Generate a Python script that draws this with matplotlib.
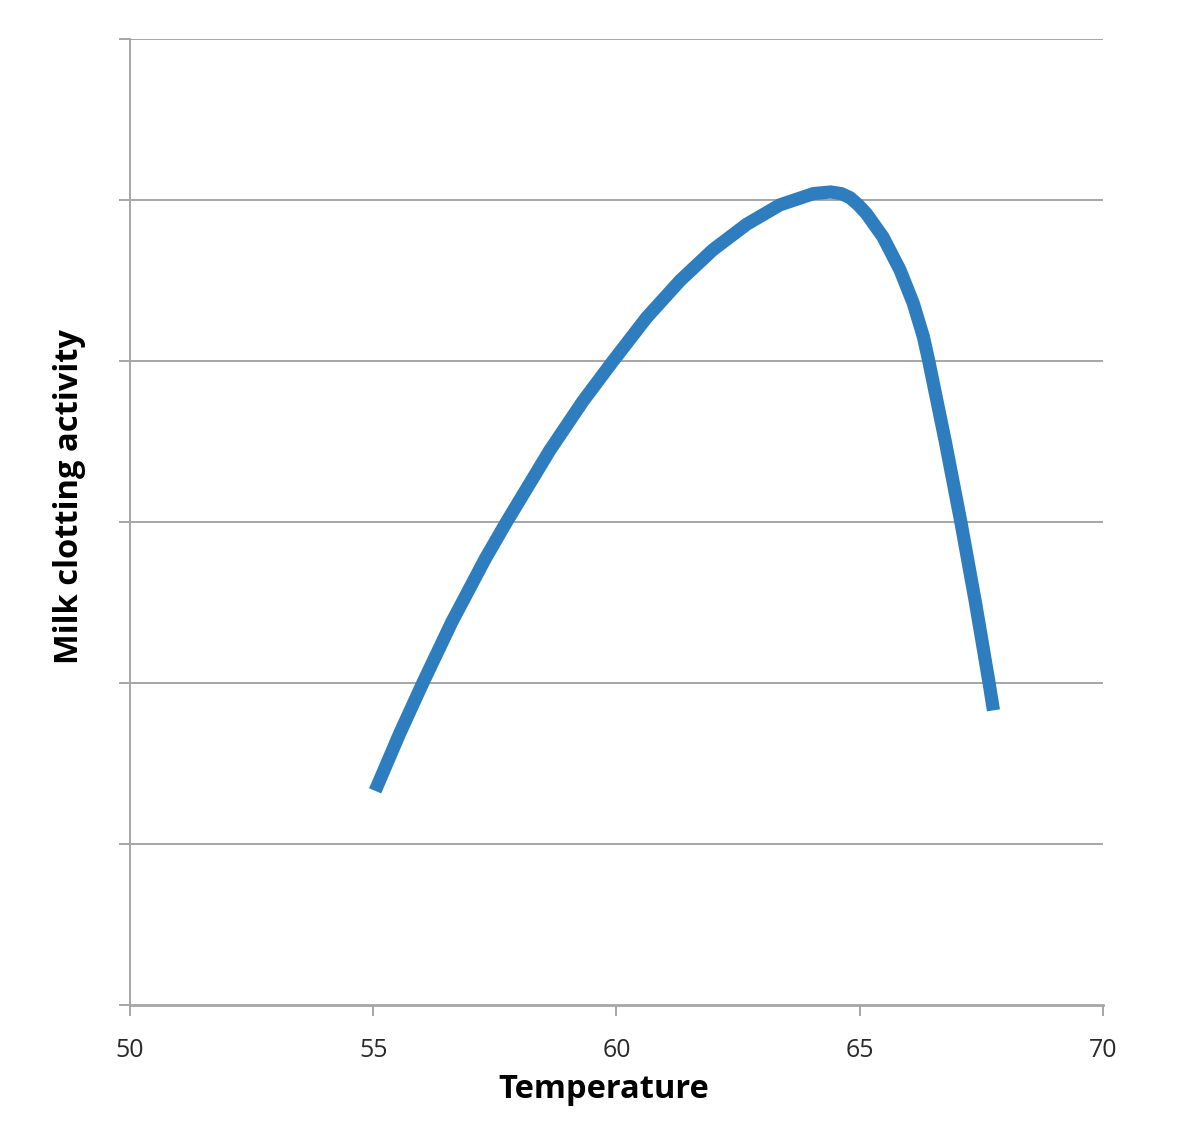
import matplotlib.pyplot as plt

# points (temperature, activity in gridline units)
temperatura = [55.04, 55.55, 56.02, 56.61, 57.30, 57.74, 58.63, 59.31, 59.93, 60.62,
               61.31, 61.98, 62.68, 63.36, 64.05, 64.40, 64.62, 64.80, 64.97, 65.14,
               65.48, 65.83, 66.10, 66.31, 66.42, 66.76, 67.08, 67.38, 67.66, 67.75]
aktywnosc = [1.33, 1.69, 2.0, 2.375, 2.77, 3.0, 3.445, 3.75, 4.0, 4.27,
             4.50, 4.69, 4.85, 4.97, 5.04, 5.05, 5.04, 5.015, 4.97, 4.915,
             4.77, 4.565, 4.36, 4.15, 4.0, 3.5, 3.0, 2.5, 2.0, 1.83]
xticki = [50, 55, 60, 65, 70]
poziomy = [0, 1, 2, 3, 4, 5, 6]

plt.rcParams['font.family'] = ['Open Sans', 'DejaVu Sans']

fig = plt.figure(figsize=(12, 11.42), dpi=100)
ax = fig.add_axes([0.1083, 0.12, 0.8108, 0.8458])

for p in poziomy[1:]:
    ax.axhline(p, color='#a6a6a6', lw=1.4, zorder=1)

ax.plot(temperatura, aktywnosc, color='#2e7ebf', lw=9.5,
        solid_capstyle='butt', solid_joinstyle='round', zorder=3)

ax.set_xlim(50, 70)
ax.set_ylim(0, 6)
ax.set_xticks(xticki)
ax.set_xticklabels([str(t) for t in xticki], fontsize=18)
ax.set_yticks(poziomy)
ax.set_yticklabels([])

for s in ['top', 'right']:
    ax.spines[s].set_visible(False)
ax.spines['left'].set_color('#a6a6a6')
ax.spines['left'].set_linewidth(1.4)
ax.spines['bottom'].set_color('#a6a6a6')
ax.spines['bottom'].set_linewidth(2)
ax.tick_params(axis='x', colors='#a6a6a6', length=8, width=1.4, labelcolor='#2a2a2a', pad=16)
ax.tick_params(axis='y', colors='#a6a6a6', length=8, width=1.4)

ax.set_xlabel('Temperature', fontsize=23.5, fontweight='bold')
ax.set_ylabel('Milk clotting activity', fontsize=23.5, fontweight='bold')
ax.xaxis.set_label_coords(0.487, -0.07)
ax.yaxis.set_label_coords(-0.045, 0.526)

fig.savefig('out.png', dpi=100)
